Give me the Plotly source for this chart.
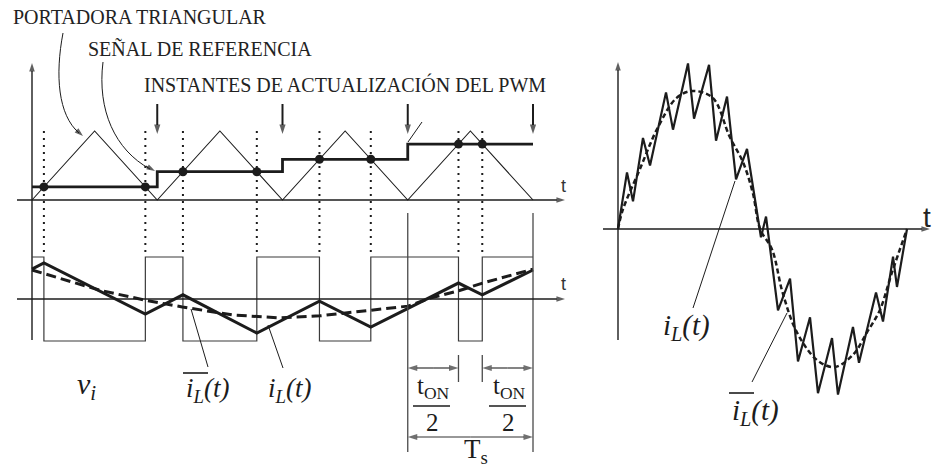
import plotly.graph_objects as go

W, H = 934, 470

# ---- PWM with a triangular carrier (time measured in switching periods Ts) ----
carrier_t = [0, 0.5, 1, 1.5, 2, 2.5, 3, 3.5, 4]
carrier_v = [0, 1, 0, 1, 0, 1, 0, 1, 0]
ref_levels = [0.19, 0.41, 0.59, 0.81]      # reference sampled and held each period
update_t = [1, 2, 3, 4]                     # PWM update instants

# ---- inductor current (units of the switched voltage amplitude) ----
il_values = [0.71, 0.86, -0.36, 0.10, -0.81, -0.05, -0.67, 0.38, 0.10, 0.69]
il_avg_t = [0, 0.54, 0.89, 1.20, 1.60, 1.98, 2.30, 2.70, 3.00, 3.18, 3.40, 3.60, 4.0]
il_avg_v = [0.69, 0.21, -0.02, -0.19, -0.38, -0.45, -0.40, -0.26, -0.17, 0.02, 0.19, 0.38, 0.71]

# ---- current over one line period (degrees, normalised amplitude) ----
line_deg = [0, 11.2, 18.7, 31.1, 39.9, 59.8, 68.5, 87.2, 94.7, 113.4, 122.1, 135.8,
            147.0, 160.7, 178.1, 184.4, 199.3, 214.3, 224.2, 239.2, 249.1, 266.6,
            274.0, 292.7, 300.2, 321.4, 330.1, 342.6, 347.5, 360]
line_il = [0, 0.41, 0.20, 0.66, 0.46, 0.99, 0.72, 1.20, 0.80, 1.19, 0.64, 0.96,
           0.36, 0.58, -0.06, 0.09, -0.59, -0.36, -0.96, -0.64, -1.19, -0.79,
           -1.20, -0.71, -0.97, -0.46, -0.67, -0.20, -0.42, 0]
avg_deg = [0, 6, 27, 50, 73, 93, 118, 139, 156, 168, 177, 192, 205, 223, 248, 270,
           293, 310, 326, 341, 360]
avg_il = [0, 0.14, 0.43, 0.74, 0.95, 1.0, 0.95, 0.67, 0.48, 0.26, 0.0, -0.15, -0.46,
          -0.75, -0.95, -1.0, -0.91, -0.75, -0.59, -0.32, 0]

# ---- scale of each panel on the page (pixels) ----
T0, TS = 32, 125.25          # t = 0 position, pixels per Ts
Y1_0, Y1_U = 200, 69         # carrier panel baseline, carrier amplitude
Y2_0, Y2_U = 299, 42         # v_i / i_L panel baseline, unit
X3_0, X3_U = 618, 289 / 360  # line-period panel origin, pixels per degree
Y3_0, Y3_U = 229, 138

INK = "#1c1c1c"
SERIF = "Liberation Serif"
SANS = "Liberation Sans"


def P(x, y):
    return x / W, 1 - y / H


def tx(x):
    return (x - T0) / TS


def v1(y):
    return (Y1_0 - y) / Y1_U


def v2(y):
    return (Y2_0 - y) / Y2_U


# switching instants: carrier crosses the held reference
sw_t, cross_t, cross_v = [], [], []
for k, r in enumerate(ref_levels):
    a, b = k + r / 2, k + 1 - r / 2
    sw_t += [a, b]
    cross_t += [a, b]
    cross_v += [r, r]

vi_t, vi_v, lvl = [0], [1], 1
for s in sw_t:
    vi_t += [s, s]
    vi_v += [lvl, -lvl]
    lvl = -lvl
vi_t.append(len(ref_levels))
vi_v.append(lvl)

il_t = [0] + sw_t + [len(ref_levels)]

fig = go.Figure()


def lines(xs, ys, xa="x", ya="y", **line):
    fig.add_trace(go.Scatter(x=xs, y=ys, xaxis=xa, yaxis=ya, mode="lines",
                             line=line, hoverinfo="skip"))


def arrow(x0, y0, x1, y1, xa="x", ya="y", width=1.4, size=9, color=INK):
    fig.add_trace(go.Scatter(
        x=[x0, x1], y=[y0, y1], xaxis=xa, yaxis=ya, mode="lines+markers",
        line=dict(color=color, width=width), hoverinfo="skip",
        marker=dict(symbol="arrow", size=[0, size], angleref="previous",
                    color=color, line=dict(width=0))))


def dim_arrow(x0, x1, y, ya="y2"):
    m = (x0 + x1) / 2
    arrow(m, y, x0, y, ya=ya, width=1.2, size=10, color="#333")
    arrow(m, y, x1, y, ya=ya, width=1.2, size=10, color="#333")


# dotted guides at the crossings
gx, gy = [], []
for t in cross_t:
    gx += [t, t, None]
    gy += [1.0, v1(252), None]
lines(gx, gy, color=INK, width=2, dash="2px,5px")

lines(carrier_t, carrier_v, color=INK, width=1.1)
lines([0] + update_t, ref_levels + [ref_levels[-1]], color=INK, width=2.8, shape="hv")
fig.add_trace(go.Scatter(x=cross_t, y=cross_v, mode="markers", hoverinfo="skip",
                         marker=dict(color=INK, size=9)))

# switched voltage and inductor current
lines(vi_t, vi_v, ya="y2", color="#3a3a3a", width=1.2)
lines(il_avg_t, il_avg_v, ya="y2", color=INK, width=3, dash="10px,5px")
lines(il_t, il_values, ya="y2", color=INK, width=3)

# Ts extension lines and t_ON/2 limit ticks
ex, ey = [], []
for t in (3, 4):
    ex += [t, t, None]
    ey += [v2(213), v2(452), None]
half = ref_levels[3] / 2
for t in (3 + half, 4 - half):
    ex += [t, t, None]
    ey += [v2(355), v2(382), None]
lines(ex, ey, ya="y2", color="#4a4a4a", width=1.3)

# line-period panel
lines(avg_deg, avg_il, xa="x3", ya="y3", color=INK, width=2.5, dash="5px,3px",
      shape="spline", smoothing=1.0)
lines(line_deg, line_il, xa="x3", ya="y3", color=INK, width=2.2)

# axes of the left panels
arrow(tx(17), 0, tx(565), 0)
arrow(0, v1(340), 0, v1(63))
arrow(tx(17), 0, tx(565), 0, ya="y2")
# PWM update instants
for t in update_t:
    arrow(t, v1(104), t, v1(134), width=2, size=10)
# dimension arrows
dim_arrow(3, 3 + half, v2(368))
dim_arrow(4 - half, 4, v2(368))
dim_arrow(3, 4, v2(437))
# axes of the line-period panel
arrow((603 - X3_0) / X3_U, 0, (930 - X3_0) / X3_U, 0, xa="x3", ya="y3")
arrow(0, (Y3_0 - 340) / Y3_U, 0, (Y3_0 - 62) / Y3_U, xa="x3", ya="y3")

# heads of the curved pointers
arrow(tx(75), v1(129), tx(83), v1(136), width=1.0, size=9)
arrow(tx(146), v1(166), tx(155), v1(171), width=1.0, size=9)

ann = []


def label(text, x, y, size, family=SERIF, color=INK, yanchor="middle"):
    px_, py_ = P(x, y)
    ann.append(dict(text=text, x=px_, y=py_, xref="paper", yref="paper",
                    showarrow=False, xanchor="center", yanchor=yanchor,
                    font=dict(family=family, size=size, color=color)))


label("PORTADORA TRIANGULAR", 140, 17, 20, color="#222")
label("SEÑAL DE REFERENCIA", 200, 49, 20, color="#222")
label("INSTANTES DE ACTUALIZACIÓN DEL PWM", 345, 84, 20, color="#222")
label("t", 563, 186, 18, SANS, "#333")
label("t", 563, 284, 18, SANS, "#333")
label("t", 927, 217, 28, SANS, "#222")
label("<i>v<sub>i</sub></i>", 86, 386, 30)
label("<i>i<sub>L</sub>(t)</i>", 208, 390, 27)
label("<i>i<sub>L</sub>(t)</i>", 290, 390, 27)
label("t<sub>ON</sub>", 433, 405, 25, yanchor="bottom")
label("2", 432, 407, 25, yanchor="top")
label("t<sub>ON</sub>", 509, 405, 25, yanchor="bottom")
label("2", 508, 407, 25, yanchor="top")
label("T<sub>s</sub>", 476, 470, 27, yanchor="bottom")
label("<i>i<sub>L</sub>(t)</i>", 686, 327, 29)
label("<i>i<sub>L</sub>(t)</i>", 755, 412, 29)

shapes = []


def curve(pts):
    s = "M {},{} C {},{} {},{} {},{}".format(
        *[v for p in pts for v in P(*p)])
    shapes.append(dict(type="path", path=s, xref="paper", yref="paper",
                       line=dict(color=INK, width=1.0)))


curve([(63, 33), (55, 75), (58, 115), (79, 133)])
curve([(103, 62), (97, 110), (115, 150), (150, 169)])


def seg(x0, y0, x1, y1, w=1.0, color=INK):
    a, b = P(x0, y0)
    c, d = P(x1, y1)
    shapes.append(dict(type="line", x0=a, y0=b, x1=c, y1=d, xref="paper",
                       yref="paper", line=dict(color=color, width=w)))


seg(408, 142, 422, 122)
seg(191, 309, 208, 367)
seg(268, 325, 283, 368)
seg(735, 181, 693, 308)
seg(787, 313, 752, 382)
# overbars of the averaged current
seg(183, 373, 208, 373, 1.6)
seg(729, 393, 754, 393, 1.6)
# fraction bars
seg(413, 406, 450, 406, 1.4)
seg(489, 406, 526, 406, 1.4)

ax_off = dict(visible=False, fixedrange=True)
fig.update_layout(
    width=W, height=H, margin=dict(l=0, r=0, t=0, b=0),
    paper_bgcolor="white", plot_bgcolor="white", showlegend=False,
    xaxis=dict(range=[-T0 / TS, (W - T0) / TS], domain=[0, 1], **ax_off),
    yaxis=dict(range=[(Y1_0 - H) / Y1_U, Y1_0 / Y1_U], domain=[0, 1], **ax_off),
    yaxis2=dict(range=[(Y2_0 - H) / Y2_U, Y2_0 / Y2_U], overlaying="y", anchor="x", **ax_off),
    xaxis3=dict(range=[-X3_0 / X3_U, (W - X3_0) / X3_U], overlaying="x", anchor="y3", **ax_off),
    yaxis3=dict(range=[(Y3_0 - H) / Y3_U, Y3_0 / Y3_U], overlaying="y", anchor="x3", **ax_off),
    annotations=ann, shapes=shapes,
)

fig.write_html("out.html")
